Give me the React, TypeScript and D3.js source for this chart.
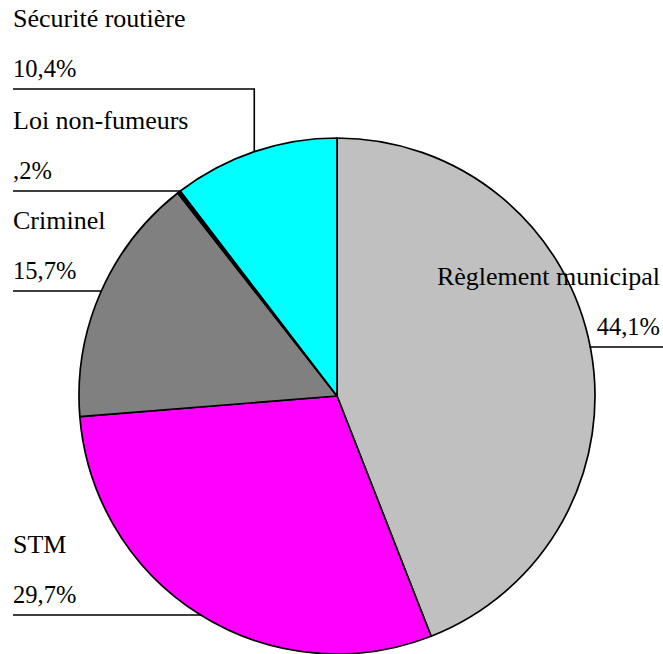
import React from "react";
import * as d3 from "d3";

const categories = ["Règlement municipal", "STM", "Criminel", "Loi non-fumeurs", "Sécurité routière"];
const values = [44.1, 29.7, 15.7, 0.2, 10.4];
const valueLabels = ["44,1%", "29,7%", "15,7%", ",2%", "10,4%"];
const colors = ["#C0C0C0", "#FF00FF", "#808080", "#000000", "#00FFFF"];

// layout: y of the underline of each label block, and side
const labelLineY = [347, 615, 291, 191, 89];
const labelSide = ["right", "left", "left", "left", "left"];

const W = 663;
const H = 654;
const cx = 337;
const cy = 396;
const R = 258;

export default function App() {
  const pie = d3.pie<number>().sort(null).value((d) => d);
  const arcs = pie(values);
  const arcGen = d3.arc<d3.PieArcDatum<number>>().innerRadius(0).outerRadius(R);

  return (
    <svg
      width={W}
      height={H}
      style={{
        position: "absolute",
        left: 0,
        top: 0,
        background: "#fff",
        fontFamily: '"Liberation Serif", "DejaVu Serif", serif',
      }}
    >
      <g transform={`translate(${cx},${cy})`}>
        {arcs.map((a, i) => (
          <path
            key={i}
            d={arcGen(a) || ""}
            fill={colors[i]}
            stroke="#000"
            strokeWidth={1.7}
            strokeLinejoin="round"
          />
        ))}
      </g>
      {arcs.map((a, i) => {
        const mid = (a.startAngle + a.endAngle) / 2;
        const px = cx + R * Math.sin(mid);
        const py = cy - R * Math.cos(mid);
        const ly = labelLineY[i];
        const right = labelSide[i] === "right";
        const edgeX = right ? W : 13;
        const d = `M${edgeX},${ly} H${px} V${py}`;
        const tx = right ? 660 : 13;
        const anchor = right ? "end" : "start";
        return (
          <g key={"l" + i}>
            <path d={d} fill="none" stroke="#000" strokeWidth={1.6} />
            <text x={tx} y={ly - 62} textAnchor={anchor} fill="#000" fontSize={26}>
              {categories[i]}
            </text>
            <text x={tx} y={ly - 12} textAnchor={anchor} fill="#000" fontSize={24.5}>
              {valueLabels[i]}
            </text>
          </g>
        );
      })}
    </svg>
  );
}
